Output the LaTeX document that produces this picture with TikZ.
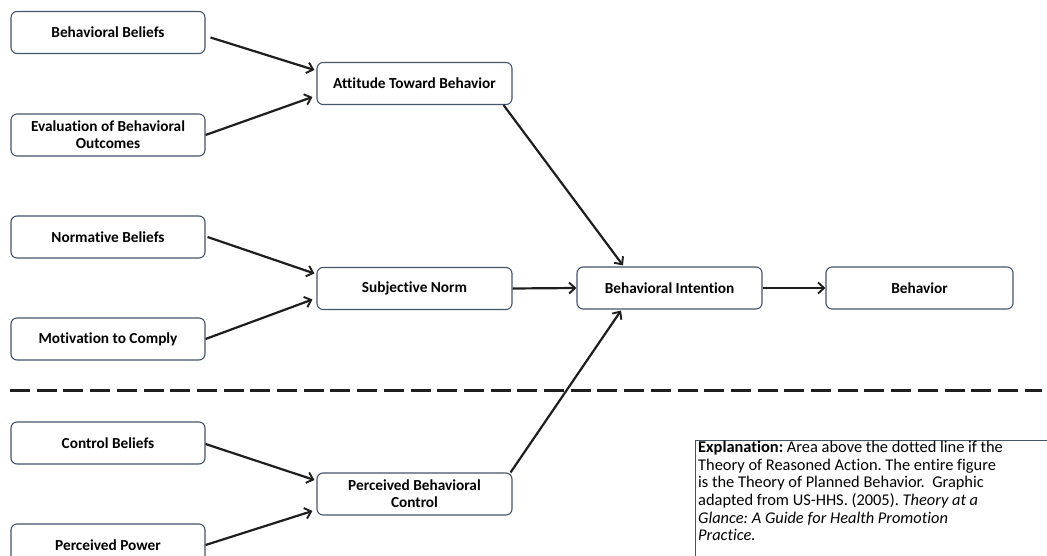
\documentclass[tikz,border=0pt]{standalone}
\usepackage{fontspec}
\setmainfont[Ligatures={NoCommon}]{Carlito}
\usetikzlibrary{arrows.meta,calc}
\definecolor{boxline}{HTML}{44546A}
\definecolor{arrcol}{HTML}{1E1E1E}
\tikzset{
  box/.style={draw=boxline, line width=1.1pt, rounded corners=6pt, fill=white,
    align=center, inner sep=2pt, font=\fontsize{15.3}{17}\selectfont\bfseries},
  leftbox/.style={box, minimum width=194pt, minimum height=42pt},
  midbox/.style={box, minimum width=195pt, minimum height=42pt},
  arr/.style={draw=arrcol, line width=2.2pt,
    -{Straight Barb[length=6pt,width=11pt,line width=1.9pt]}},
}
\begin{document}
\frenchspacing
\begin{tikzpicture}[x=1pt,y=-1pt]
\useasboundingbox (0,0) rectangle (1047,556);
\clip (0,0) rectangle (1047,556);
% left column
\node[leftbox] (bb) at (108,32.5) {Behavioral Beliefs};
\node[leftbox] (ev) at (108,135) {Evaluation of Behavioral\\Outcomes};
\node[leftbox] (nb) at (108,237) {Normative Beliefs};
\node[leftbox] (mc) at (108,339) {Motivation to Comply};
\node[leftbox] (cb) at (108,443) {Control Beliefs};
\node[leftbox] (pp) at (108,545) {Perceived Power};
% middle column
\node[midbox] (att) at (414.5,83.5) {Attitude Toward Behavior};
\node[midbox] (sn) at (414.5,288.5) {Subjective Norm};
\node[midbox] (pbc) at (414.5,494) {Perceived Behavioral\\Control};
% right
\node[box, minimum width=185pt, minimum height=42pt] (bi) at (669.5,288) {Behavioral Intention};
\node[box, minimum width=187pt, minimum height=42pt] (beh) at (919.5,288) {Behavior};
% arrows
\draw[arr] ([xshift=5pt,yshift=-5pt]bb.east) -- ([xshift=-2pt,yshift=13.5pt]att.west);
\draw[arr] (ev.east) -- ([xshift=-4pt,yshift=-13.5pt]att.west);
\draw[arr] ([xshift=2pt]nb.east) -- ([xshift=-2pt,yshift=15pt]sn.west);
\draw[arr] (mc.east) -- ([xshift=-4pt,yshift=-11pt]sn.west);
\draw[arr] ([yshift=-1pt]cb.east) -- ([xshift=-2pt,yshift=14pt]pbc.west);
\draw[arr] (pp.east) -- ([xshift=-4pt,yshift=-17pt]pbc.west);
\draw[arr] ([xshift=-9pt]att.south east) -- ([xshift=-46.5pt,yshift=1pt]bi.north);
\draw[arr] (sn.east) -- (bi.west);
\draw[arr] ([xshift=-2pt]pbc.north east) -- ([xshift=-48.5pt,yshift=-1pt]bi.south);
\draw[arr] (bi.east) -- (beh.west);
% dashed separator
\coordinate (dl) at (10,390);
\coordinate (dr) at (1042,390);
\draw[arrcol, line width=3pt, dash pattern=on 20pt off 6.7pt] (dl) -- (dr);
% explanation box
\draw[boxline, line width=1pt] (695,440) rectangle (1060,600);
\node[anchor=north west, align=left, inner sep=0pt,
  font=\fontsize{16.4}{17.6}\selectfont] (expl) at (698,441)
  {\textbf{Explanation:} Area above the dotted line if the\\
   Theory of Reasoned Action. The entire figure\\
   is the Theory of Planned Behavior.\ \ Graphic\\
   adapted from US-HHS. (2005). \textit{Theory at a}\\
   \textit{Glance: A Guide for Health Promotion}\\
   \textit{Practice.}};
\end{tikzpicture}
\end{document}
